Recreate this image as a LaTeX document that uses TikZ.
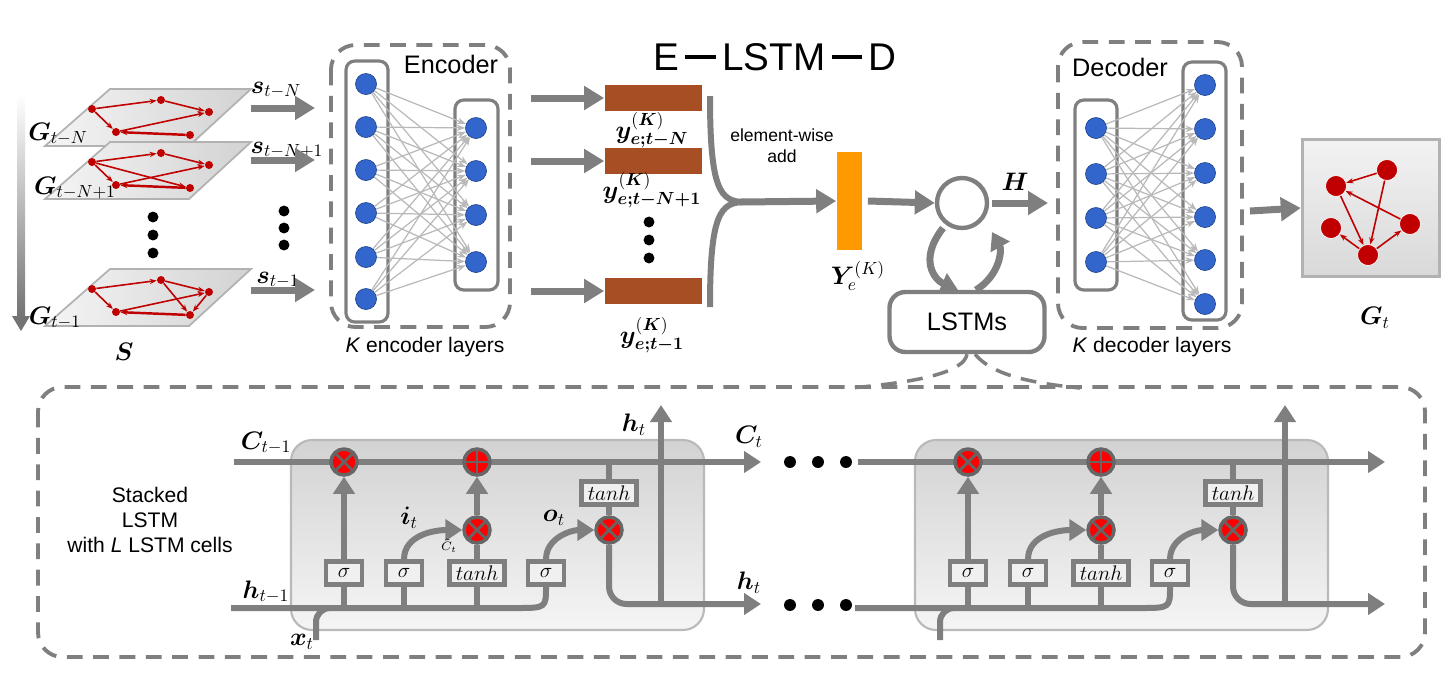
\documentclass[tikz,border=0pt]{standalone}
\usepackage{fontspec}
\setmainfont{Liberation Sans}
\usepackage{bm}
\usetikzlibrary{arrows.meta}
\definecolor{pipegray}{HTML}{7F7F7F}
\definecolor{brownbar}{HTML}{A84E24}
\definecolor{orangebar}{HTML}{FF9900}
\definecolor{neuronblue}{HTML}{3366CC}
\definecolor{graphred}{HTML}{C00000}

\tikzset{
  pipe/.style={pipegray, line width=0.12cm},
  flow/.style={pipe, -{Triangle[width=0.42cm,length=0.34cm]}},
  feed/.style={pipegray, line width=0.14cm, -{Triangle[width=0.46cm,length=0.4cm]}},
  neuron/.style={circle, fill=neuronblue, draw=neuronblue!70!black, minimum size=0.42cm, inner sep=0pt},
  layer/.style={draw=pipegray, line width=1.8pt, rounded corners=5pt},
  link/.style={gray!55, line width=0.7pt, -{Stealth[length=5pt]}},
  gnode/.style={circle, fill=graphred, minimum size=0.16cm, inner sep=0pt},
  gedge/.style={graphred, line width=0.9pt, -{Stealth[length=4pt]}},
  gate/.style={draw=pipegray, line width=2.4pt, fill=gray!12, minimum width=0.72cm, minimum height=0.46cm, inner sep=1pt, font=\large},
  mult/.style={circle, fill=red, draw=pipegray!80!black, line width=2pt, minimum size=0.52cm, inner sep=0pt,
    path picture={\draw[pipegray!80!black, line width=1.6pt]
      (path picture bounding box.north west) -- (path picture bounding box.south east)
      (path picture bounding box.north east) -- (path picture bounding box.south west);}},
  plus/.style={mult, path picture={\draw[pipegray!80!black, line width=1.6pt]
      (path picture bounding box.north) -- (path picture bounding box.south)
      (path picture bounding box.east) -- (path picture bounding box.west);}},
  lbl/.style={inner sep=1pt, font=\Large},
}

% one graph slice of the sequence
\newcommand\graphplane[2]{%
  \fill[left color=gray!8, right color=gray!35, draw=gray!60, line width=1pt]
    (110,#2) -- (251,#2) -- (189,#2+57) -- (45,#2+57) -- cycle;
  \node[gnode] (#1a) at (92,#2+20) {};
  \node[gnode] (#1b) at (161,#2+11) {};
  \node[gnode] (#1c) at (209,#2+23) {};
  \node[gnode] (#1d) at (116,#2+43) {};
  \node[gnode] (#1e) at (190,#2+46) {};
  \draw[gedge] (#1a) -- (#1b);
  \draw[gedge] (#1b) -- (#1c);
  \draw[gedge] (#1a) -- (#1d);
  \draw[gedge] (#1d) -- (#1c);
  \draw[gedge, line width=1.4pt] (#1e) -- (#1d);
}

% one LSTM cell, shifted by #2
\newcommand\lstmcell[2]{%
  \begin{scope}[shift={(#2,0)}]
  \fill[top color=gray!35, bottom color=gray!8, draw=gray!55, line width=1.2pt, rounded corners=12pt]
    (291,440) rectangle (704,630);
  \coordinate (#1cin) at (234,462);
  \coordinate (#1cout) at (761,462);
  \coordinate (#1hin) at (231,608);
  \coordinate (#1hout) at (761,604);
  \coordinate (#1xin) at (316,640);
  \node[gate] (#1sf) at (344,573) {$\sigma$};
  \node[gate] (#1si) at (404,573) {$\sigma$};
  \node[gate, minimum width=1.1cm] (#1tc) at (477,573) {$tanh$};
  \node[gate] (#1so) at (546,573) {$\sigma$};
  \node[gate, minimum width=1.1cm] (#1th) at (609,493) {$tanh$};
  \draw[flow] (#1cin) -- (#1cout);
  \draw[pipe] (#1hin) -- (516,608) .. controls (546,608) .. (#1so.south);
  \draw[pipe, rounded corners=8pt] (#1xin) -- (316,608) -- (330,608);
  \draw[pipe] (344,608) -- (#1sf.south);
  \draw[pipe] (404,608) -- (#1si.south);
  \draw[pipe] (477,608) -- (#1tc.south);
  \node[mult] (#1mf) at (344,462) {};
  \node[plus] (#1pl) at (477,462) {};
  \node[mult] (#1mi) at (477,530) {};
  \node[mult] (#1mo) at (609,530) {};
  \draw[flow] (#1sf.north) -- (#1mf.south);
  \draw[pipe] (#1tc.north) -- (#1mi.south);
  \draw[flow] (#1mi.north) -- (#1pl.south);
  \draw[flow] (#1si.north) to[out=90,in=180] (#1mi.west);
  \draw[flow] (#1so.north) to[out=90,in=180] (#1mo.west);
  \draw[pipe] (609,465) -- (#1th.north);
  \draw[pipe] (#1th.south) -- (#1mo.north);
  \draw[flow, rounded corners=10pt] (#1mo.south) -- (609,604) -- (#1hout);
  \draw[flow] (661,604) -- (661,405);
  \end{scope}
}

\begin{document}
\begin{tikzpicture}[x=0.02cm, y=-0.02cm]
\useasboundingbox (0,0) rectangle (1453,691);

% input graph sequence
\shade[top color=white, bottom color=gray!90!black] (17,95) rectangle (25,318);
\fill[gray!90!black] (12,316) -- (30,316) -- (21,331) -- cycle;
\graphplane{ga}{89}
\graphplane{gb}{142}
\draw[gedge] (gba) -- (gbe);
\graphplane{gc}{269}
\draw[gedge] (gcb) -- (gce);
\draw[gedge] (gcc) -- (gce);
\node[lbl] (lga) at (58,134) {$\bm{G}_{t-N}$};
\node[lbl] (lgb) at (75,188) {$\bm{G}_{t-N+1}$};
\node[lbl] (lgc) at (55,318) {$\bm{G}_{t-1}$};
\node[lbl] (lgs) at (124,352) {$\bm{S}$};
\foreach \y [count=\i] in {217,235,253} \node[circle, fill=black, inner sep=2.2pt] (gdot\i) at (153,\y) {};
\foreach \y [count=\i] in {211,228,245} \node[circle, fill=black, inner sep=2.2pt] (sdot\i) at (284,\y) {};

% slices into the encoder
\node[lbl] (lsa) at (276,90) {$\bm{s}_{t-N}$};
\node[lbl] (lsb) at (287,150) {$\bm{s}_{t-N+1}$};
\node[lbl] (lsc) at (278,280) {$\bm{s}_{t-1}$};
\coordinate (ina) at (251,108); \coordinate (ena) at (315,108);
\coordinate (inb) at (251,160); \coordinate (enb) at (315,160);
\coordinate (inc) at (251,290); \coordinate (enc) at (315,290);
\draw[feed] (ina) -- (ena);
\draw[feed] (inb) -- (enb);
\draw[feed] (inc) -- (enc);

% encoder
\draw[pipegray, line width=2.2pt, dash pattern=on 9pt off 6pt, rounded corners=14pt] (331,45) rectangle (510,327);
\node (enctitle) at (451,64) {\Large Encoder};
\node (encbottom) at (425,347) {\large \textit{K} encoder layers};
\draw[layer] (346,61) rectangle (388,322);
\draw[layer] (455,100) rectangle (498,290);
\foreach \y [count=\i] in {84,127,170,213,257,299} \node[neuron] (ea\i) at (366,\y) {};
\foreach \y [count=\i] in {128,171,215,262} \node[neuron] (eb\i) at (476,\y) {};
\foreach \i in {1,...,6} \foreach \j in {1,...,4} \draw[link] (ea\i) -- (eb\j);

% encoder outputs
\node[font=\fontsize{22}{24}\selectfont] (te) at (666,57) {E};
\node[font=\fontsize{22}{24}\selectfont] (tl) at (774,57) {LSTM};
\node[font=\fontsize{22}{24}\selectfont] (td) at (882,57) {D};
\draw[line width=2.5pt] (te.east) -- (tl.west);
\draw[line width=2.5pt] (tl.east) -- (td.west);
\foreach \y [count=\i] in {98,161,291} {
  \coordinate (ya\i) at (531,\y);
  \node[fill=brownbar, minimum width=1.94cm, minimum height=0.52cm, inner sep=0pt] (yb\i) at (653,\y) {};
  \draw[feed] (ya\i) -- (yb\i.west);
}
\node[lbl] (lya) at (652,130) {$\bm{y}_{\bm{e;t-N}}^{(\bm{K})}$};
\node[lbl] (lyb) at (652,190) {$\bm{y}_{\bm{e;t-N+1}}^{(\bm{K})}$};
\node[lbl] (lyc) at (652,335) {$\bm{y}_{\bm{e;t-1}}^{(\bm{K})}$};
\foreach \y [count=\i] in {222,240,258} \node[circle, fill=black, inner sep=2.2pt] (ydot\i) at (649,\y) {};

% element-wise sum
\coordinate (join) at (745,202);
\draw[pipe] (710,96) .. controls (710,190) and (720,202) .. (join);
\draw[pipe] (710,307) .. controls (710,214) and (720,202) .. (join);
\node[align=center] (addtxt) at (782,146) {element-wise\\add};
\node[fill=orangebar, minimum width=0.5cm, minimum height=1.96cm, inner sep=0pt] (ybar) at (849,201) {};
\draw[feed] (740,202) -- (ybar.west);
\node[lbl] (lyall) at (858,276) {$\bm{Y}_{e}^{(K)}$};

% recurrent part
\node[circle, draw=pipegray, line width=2.5pt, minimum size=1cm] (rnn) at (962,203) {};
\draw[feed] (ybar.east) ++(6,0) -- (rnn.west);
\node[draw=pipegray, line width=2.5pt, rounded corners=9pt, minimum width=3.1cm, minimum height=1.2cm, font=\Large] (lstms) at (967,322) {LSTMs};
\draw[flow, line width=0.14cm] (943,228) .. controls (918,260) and (935,280) .. (958,290);
\draw[flow, line width=0.14cm] (976,290) .. controls (1000,275) and (1002,250) .. (992,232);
\node[lbl] (lh) at (1015,182) {$\bm{H}$};
\node[coordinate] (decin) at (1048,203) {};
\draw[feed] (rnn.east) ++(3,0) -- (decin);

% decoder
\draw[pipegray, line width=2.2pt, dash pattern=on 9pt off 6pt, rounded corners=14pt] (1058,42) rectangle (1242,328);
\node (dectitle) at (1120,67) {\Large Decoder};
\node (decbottom) at (1152,347) {\large \textit{K} decoder layers};
\draw[layer] (1075,100) rectangle (1117,290);
\draw[layer] (1183,62) rectangle (1226,320);
\foreach \y [count=\i] in {128,174,218,262} \node[neuron] (da\i) at (1096,\y) {};
\foreach \y [count=\i] in {85,129,173,217,260,304} \node[neuron] (db\i) at (1205,\y) {};
\foreach \i in {1,...,4} \foreach \j in {1,...,6} \draw[link] (da\i) -- (db\j);

% output graph
\coordinate (outa) at (1250,211);
\node[draw=gray!60, line width=2pt, top color=gray!10, bottom color=gray!30, minimum size=2.74cm] (gtbox) at (1371,208) {};
\draw[feed] (outa) -- (gtbox.west);
\node[circle, fill=graphred, draw=white, minimum size=0.42cm, inner sep=0pt] (ta) at (1387,170) {};
\node[circle, fill=graphred, draw=white, minimum size=0.42cm, inner sep=0pt] (tb) at (1336,186) {};
\node[circle, fill=graphred, draw=white, minimum size=0.42cm, inner sep=0pt] (tc) at (1410,224) {};
\node[circle, fill=graphred, draw=white, minimum size=0.42cm, inner sep=0pt] (td2) at (1331,228) {};
\node[circle, fill=graphred, draw=white, minimum size=0.42cm, inner sep=0pt] (te2) at (1368,255) {};
\draw[gedge] (ta) -- (tb);
\draw[gedge] (ta) -- (te2);
\draw[gedge] (tc) -- (tb);
\draw[gedge] (tb) -- (te2);
\draw[gedge] (te2) -- (td2);
\draw[gedge] (te2) -- (tc);
\node[lbl] (lgt) at (1375,318) {$\bm{G}_t$};

% stacked LSTM detail
\draw[pipegray, line width=2.2pt, dash pattern=on 9pt off 6pt, rounded corners=14pt] (38,387) rectangle (1425,657);
\draw[pipegray, line width=2pt, dash pattern=on 9pt off 6pt] (lstms.south) .. controls (964,372) and (920,382) .. (850,388);
\draw[pipegray, line width=2pt, dash pattern=on 9pt off 6pt] (lstms.south) ++(8,0) .. controls (990,372) and (1020,382) .. (1080,388);
\node[align=center, font=\large] (stacktxt) at (150,520) {Stacked\\LSTM\\with \textit{L} LSTM cells};
\lstmcell{ca}{0}
\lstmcell{cb}{624}
\node[lbl] (lc0) at (266,443) {$\bm{C}_{t-1}$};
\node[lbl] (lc1) at (749,437) {$\bm{C}_{t}$};
\node[lbl] (lht) at (634,425) {$\bm{h}_{t}$};
\node[lbl] (lhr) at (749,583) {$\bm{h}_{t}$};
\node[lbl] (lh0) at (266,592) {$\bm{h}_{t-1}$};
\node[lbl] (lxt) at (302,642) {$\bm{x}_{t}$};
\node[lbl] (lit) at (409,518) {$\bm{i}_{t}$};
\node[lbl] (lot) at (554,518) {$\bm{o}_{t}$};
\node[inner sep=0pt, font=\scriptsize] (lct) at (449,546) {$\tilde{C}_{t}$};
\foreach \x [count=\i] in {790,818,846} {
  \node[circle, fill=black, inner sep=2.4pt] (cdot\i) at (\x,462) {};
  \node[circle, fill=black, inner sep=2.4pt] (hdot\i) at (\x,605) {};
}
\end{tikzpicture}
\end{document}
